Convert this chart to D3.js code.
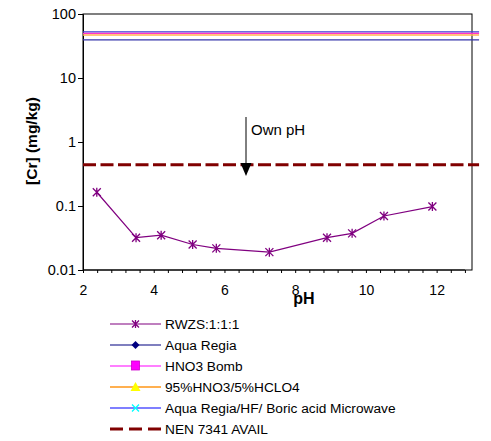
<!DOCTYPE html>
<html><head><meta charset="utf-8">
<script src="https://cdn.jsdelivr.net/npm/d3@7"></script>
<style>body{margin:0;background:#fff}svg{font-family:"Liberation Sans",Arial,sans-serif}</style>
</head><body>
<script>
// Data
const rwzsPH = [2.39, 3.50, 4.21, 5.10, 5.77, 7.27, 8.90, 9.61, 10.51, 11.88];
const rwzsCr = [0.164, 0.032, 0.035, 0.025, 0.0218, 0.019, 0.032, 0.0374, 0.0698, 0.098];
const refPH = [2, 13.2];
const aquaRegia = 39.3;
const hno3Bomb = 49.9;
const hno3Hclo4 = 47.0;
const arHfBoric = 52.4;
const nen7341 = 0.44;
const yTicks = [0.01, 0.1, 1, 10, 100];
const yTickLabels = ["0.01", "0.1", "1", "10", "100"];
const xTicks = [2, 4, 6, 8, 10, 12];
const legendNames = ["RWZS:1:1:1", "Aqua Regia", "HNO3 Bomb", "95%HNO3/5%HCLO4", "Aqua Regia/HF/ Boric acid Microwave", "NEN 7341 AVAIL"];

const W = 491, H = 441;
const svg = d3.select("body").append("svg").attr("width", W).attr("height", H);
const x = d3.scaleLinear().domain([2, 13]).range([83, 472]);
const y = d3.scaleLog().domain([0.01, 100]).range([270, 14]);

// plot border
svg.append("rect").attr("x", x(2)).attr("y", y(100)).attr("width", x(13) - x(2)).attr("height", y(0.01) - y(100))
  .attr("fill", "none").attr("stroke", "#000").attr("stroke-width", 1);

// y axis
const yAxis = svg.append("g").attr("transform", `translate(${x(2)},0)`)
  .call(d3.axisLeft(y).tickValues(yTicks).tickFormat((d, i) => yTickLabels[i]).tickSize(5).tickPadding(2));
yAxis.select(".domain").attr("stroke", "#000");
yAxis.selectAll("text").attr("font-size", 14.5).attr("fill", "#000");

// x axis
const minorTicks = d3.range(0, 28).map(i => 2 + i * 0.4).filter(v => v <= 12.81);
const xAxisG = svg.append("g").attr("transform", `translate(0,${y(0.01)})`);
xAxisG.call(d3.axisBottom(x).tickValues(minorTicks).tickFormat("").tickSize(3).tickSizeOuter(0));
xAxisG.select(".domain").remove();
xAxisG.append("line").attr("x1", x(2)).attr("x2", x(12.8)).attr("stroke", "#000");
const xLab = svg.append("g").attr("transform", `translate(0,${y(0.01)})`)
  .call(d3.axisBottom(x).tickValues(xTicks).tickSize(0).tickPadding(15));
xLab.select(".domain").remove();
xLab.selectAll("text").attr("font-size", 14).attr("fill", "#000");

// axis titles
svg.append("text").attr("transform", "translate(37,141) rotate(-90)").attr("text-anchor", "middle")
  .attr("font-size", 15.5).attr("font-weight", "bold").text("[Cr] (mg/kg)");
svg.append("text").attr("x", 304).attr("y", 304).attr("text-anchor", "middle")
  .attr("font-size", 16).attr("font-weight", "bold").text("pH");

// reference lines
const line = d3.line().x(d => x(d[0])).y(d => y(d[1]));
const refs = [
  {v: aquaRegia, c: "#3333aa"},
  {v: arHfBoric, c: "#3b3bd0"},
  {v: hno3Hclo4, c: "#ffb050"},
  {v: hno3Bomb, c: "#ff33cc"}
];
refs.forEach(r => {
  svg.append("path").datum(refPH.map(p => [p, r.v])).attr("d", line)
    .attr("stroke", r.c).attr("stroke-width", 1.3).attr("fill", "none");
});
svg.append("path").datum(refPH.map(p => [p, nen7341])).attr("d", line)
  .attr("stroke", "#800000").attr("stroke-width", 3).attr("stroke-dasharray", "13,4.5").attr("fill", "none");

// markers
function star(g, cx, cy, s, c) {
  const h = s / 2;
  g.append("path").attr("d", `M${cx-h},${cy-h}L${cx+h},${cy+h}M${cx-h},${cy+h}L${cx+h},${cy-h}M${cx},${cy-h-0.5}L${cx},${cy+h+0.5}`)
    .attr("stroke", c).attr("stroke-width", 1.3).attr("fill", "none");
}

// RWZS series
const rw = rwzsPH.map((p, i) => [p, rwzsCr[i]]);
svg.append("path").datum(rw).attr("d", line).attr("stroke", "#800080").attr("stroke-width", 1.2).attr("fill", "none");
const mg = svg.append("g");
rw.forEach(d => star(mg, x(d[0]), y(d[1]), 8, "#800080"));

// annotation
svg.append("line").attr("x1", 246).attr("x2", 246).attr("y1", 117).attr("y2", 165).attr("stroke", "#000").attr("stroke-width", 1);
svg.append("path").attr("d", "M240.5,163L251.5,163L246,176Z").attr("fill", "#000");
svg.append("text").attr("x", 251).attr("y", 135).attr("font-size", 15).text("Own pH");

// legend
const lg = svg.append("g");
legendNames.forEach((name, i) => {
  const ly = 324 + i * 21;
  const g = lg.append("g");
  if (i === 0) {
    g.append("line").attr("x1", 110).attr("x2", 161).attr("y1", ly).attr("y2", ly).attr("stroke", "#800080").attr("stroke-width", 1.2);
    star(g, 135.5, ly, 7, "#800080");
  } else if (i === 1) {
    g.append("line").attr("x1", 110).attr("x2", 161).attr("y1", ly).attr("y2", ly).attr("stroke", "#000080").attr("stroke-width", 1.2);
    g.append("path").attr("d", `M135.5,${ly-4}L139.5,${ly}L135.5,${ly+4}L131.5,${ly}Z`).attr("fill", "#000080");
  } else if (i === 2) {
    g.append("line").attr("x1", 110).attr("x2", 161).attr("y1", ly).attr("y2", ly).attr("stroke", "#ff00ff").attr("stroke-width", 1.2);
    g.append("rect").attr("x", 131.5).attr("y", ly - 5).attr("width", 8).attr("height", 9).attr("fill", "#ff00ff").attr("stroke", "#cc00cc").attr("stroke-width", 0.8);
  } else if (i === 3) {
    g.append("line").attr("x1", 110).attr("x2", 161).attr("y1", ly).attr("y2", ly).attr("stroke", "#ffb050").attr("stroke-width", 2);
    g.append("path").attr("d", `M135.5,${ly-5}L140.5,${ly+4}L130.5,${ly+4}Z`).attr("fill", "#ffff00");
  } else if (i === 4) {
    g.append("line").attr("x1", 110).attr("x2", 161).attr("y1", ly).attr("y2", ly).attr("stroke", "#0000ff").attr("stroke-width", 1.2);
    g.append("path").attr("d", `M132,${ly-3.5}L139,${ly+3.5}M132,${ly+3.5}L139,${ly-3.5}`).attr("stroke", "#00ffff").attr("stroke-width", 1.3);
  } else {
    g.append("line").attr("x1", 110).attr("x2", 161).attr("y1", ly).attr("y2", ly).attr("stroke", "#800000").attr("stroke-width", 3).attr("stroke-dasharray", "13,6");
  }
  g.append("text").attr("x", 165).attr("y", ly + 5).attr("font-size", 13.7).text(name);
});
</script>
</body></html>
